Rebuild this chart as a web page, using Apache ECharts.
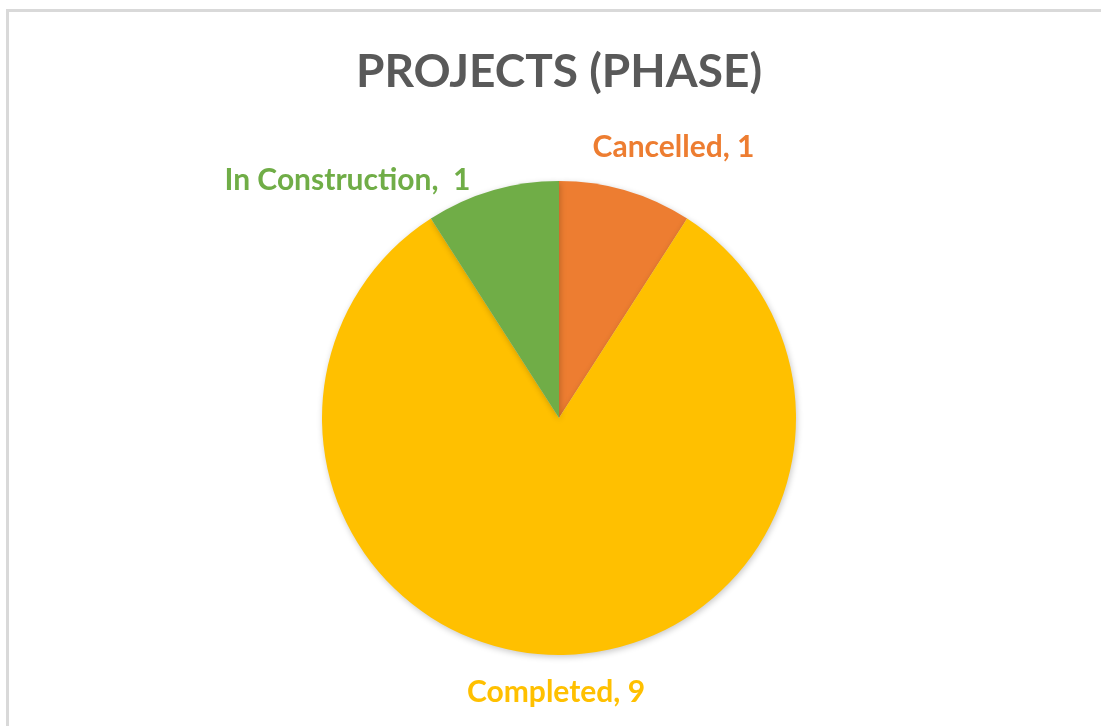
<!DOCTYPE html>
<html>
<head>
<meta charset="utf-8">
<script src="https://cdn.jsdelivr.net/npm/echarts@6/dist/echarts.min.js"></script>
<style>
  html, body { margin: 0; padding: 0; background: #fff; overflow: hidden; }
  #frame {
    position: absolute; left: 6px; top: 9px; width: 1200px; height: 800px;
    border-top: 3px solid #d9d9d9; border-left: 3px solid #d9d9d9;
  }
  #pieMap { position: absolute; left: 0; top: 0; width: 1101px; height: 726px; }
</style>
</head>
<body>
<div id="frame"></div>
<div id="pieMap"></div>
<script>
// 数据
var phaseNames = ['Cancelled', 'Completed', 'In Construction'];
var phaseCounts = [1, 9, 1];
var color = ['#ED7D31', '#FFC000', '#70AD47'];

var pieData = [];
for (var i = 0; i < phaseNames.length; i++) {
  pieData.push({ name: phaseNames[i], value: phaseCounts[i] });
}

var myChart = echarts.init(document.getElementById('pieMap'));
var option = {
  color: color,
  title: {
    text: 'PROJECTS (PHASE)',
    left: 351,
    top: 44,
    textStyle: {
      fontFamily: 'Lato',
      fontWeight: 'bold',
      fontSize: 46,
      color: '#595959'
    }
  },
  series: [{
    type: 'pie',
    radius: 237,
    center: [559, 418],
    startAngle: 90,
    clockwise: true,
    data: pieData,
    itemStyle: {
      borderWidth: 0,
      shadowBlur: 6,
      shadowOffsetX: 1,
      shadowOffsetY: 2,
      shadowColor: 'rgba(0,0,0,0.22)'
    },
    emphasis: { disabled: true },
    label: {
      show: true,
      position: 'outside',
      formatter: function (p) {
        return p.name + (p.dataIndex === 2 ? ',  ' : ', ') + p.value;
      },
      fontFamily: 'Lato',
      fontWeight: 'bold',
      fontSize: 30,
      color: 'inherit'
    },
    labelLine: { show: false, length: 10, length2: 0 },
    // 标签微调, 贴近原图位置
    labelLayout: function (p) {
      if (p.dataIndex === 0) return { dx: -41, dy: -34 };
      if (p.dataIndex === 2) return { dx: -14, dy: -1 };
      return { align: 'center', dx: -8, dy: 27 };
    }
  }]
};
myChart.setOption(option);
</script>
</body>
</html>
